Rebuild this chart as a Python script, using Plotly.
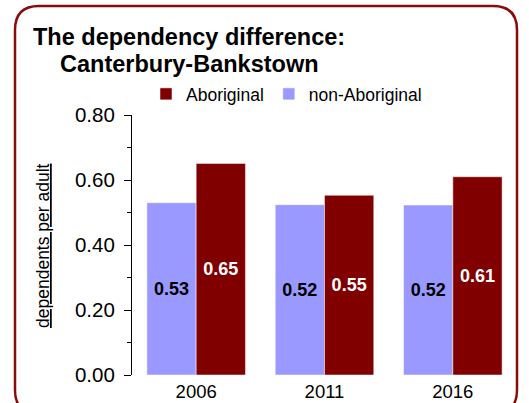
import plotly.graph_objects as go

years = ["2006", "2011", "2016"]
non_aboriginal = [0.53, 0.524, 0.523]
aboriginal = [0.651, 0.553, 0.610]
y_ticks = [0.0, 0.2, 0.4, 0.6, 0.8]
y_tick_labels = ["0.00", "0.20", "0.40", "0.60", "0.80"]
y_title = "dependents per adult"

W, H = 529, 403
L, R, T, B = 132, 12, 115, 28
PW, PH = W - L - R, H - T - B

def px(x):
    return (x - L) / PW

def py(y):
    return (H - B - y) / PH

FONT = "Liberation Sans, Arial, sans-serif"
ABO = "#800000"
NON = "#9999FF"

fig = go.Figure()
fig.add_trace(go.Bar(
    x=years, y=non_aboriginal, name="non-Aboriginal",
    marker=dict(color=NON, line=dict(color="white", width=0.5)),
    texttemplate="<b>%{y:.2f}</b>", textposition="inside", insidetextanchor="middle",
    textangle=0, textfont=dict(color="black", size=18, family=FONT),
    legendrank=2,
))
fig.add_trace(go.Bar(
    x=years, y=aboriginal, name="Aboriginal",
    marker=dict(color=ABO, line=dict(color="white", width=0.5)),
    texttemplate="<b>%{y:.2f}</b>", textposition="inside", insidetextanchor="middle",
    textangle=0, textfont=dict(color="white", size=18, family=FONT),
    legendrank=1,
))

# rounded border
x0, x1, y0, y1, r = 15, 517, 6, 414, 24
path = (
    f"M {px(x0)},{py(y1 - r)} L {px(x0)},{py(y0 + r)} "
    f"Q {px(x0)},{py(y0)} {px(x0 + r)},{py(y0)} "
    f"L {px(x1 - r)},{py(y0)} Q {px(x1)},{py(y0)} {px(x1)},{py(y0 + r)} "
    f"L {px(x1)},{py(y1 - r)} Q {px(x1)},{py(y1)} {px(x1 - r)},{py(y1)} "
    f"L {px(x0 + r)},{py(y1)} Q {px(x0)},{py(y1)} {px(x0)},{py(y1 - r)} Z"
)
fig.add_shape(type="path", path=path, xref="paper", yref="paper",
              line=dict(color="#8B0A0A", width=2.5), fillcolor="rgba(0,0,0,0)", layer="above")

fig.add_annotation(text="<b>The dependency difference:</b>", xref="paper", yref="paper",
                   x=px(31), y=py(37.4), xanchor="left", yanchor="middle", showarrow=False,
                   font=dict(size=23.5, color="black", family=FONT))
fig.add_annotation(text="<b>Canterbury-Bankstown</b>", xref="paper", yref="paper",
                   x=px(58), y=py(64.4), xanchor="left", yanchor="middle", showarrow=False,
                   font=dict(size=23.5, color="black", family=FONT))
fig.add_annotation(text=f"<u>{y_title}</u>", xref="paper", yref="paper",
                   x=px(43), y=py(246), xanchor="center", yanchor="middle", textangle=-90,
                   showarrow=False, font=dict(size=17.5, color="black", family=FONT))

fig.update_layout(
    width=W, height=H,
    margin=dict(l=L, r=R, t=T, b=B, autoexpand=False),
    paper_bgcolor="white", plot_bgcolor="white",
    barmode="group", bargap=0.232, bargroupgap=0,
    font=dict(family=FONT, color="black"),
    showlegend=True,
    legend=dict(orientation="h", x=px(146), y=py(94), xanchor="left", yanchor="middle",
                font=dict(size=17.5, family=FONT), bgcolor="rgba(0,0,0,0)", tracegroupgap=0),
    xaxis=dict(type="category", showline=False, showgrid=False, zeroline=False,
               ticks="", tickfont=dict(size=18.5, family=FONT), ticklabelstandoff=3),
    yaxis=dict(range=[0, 0.8], tickvals=y_ticks, ticktext=y_tick_labels,
               showline=True, linecolor="black", linewidth=1.2,
               ticks="outside", ticklen=7, tickcolor="black", tickwidth=1.2,
               minor=dict(dtick=0.1, ticks="outside", ticklen=4, tickcolor="black", tickwidth=1.2),
               showgrid=False, zeroline=False, ticklabelstandoff=5,
               tickfont=dict(size=20.5, family=FONT)),
)

fig.write_html("out.html", config={"displayModeBar": False},
               post_script="document.body.style.margin='0';")
